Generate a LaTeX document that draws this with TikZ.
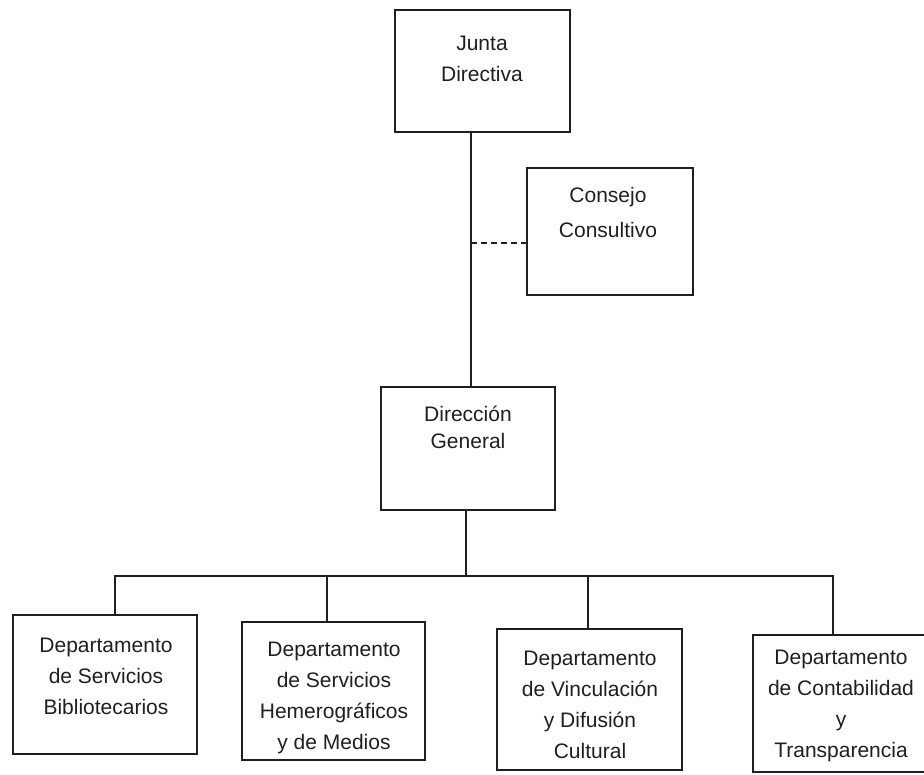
\documentclass[tikz,border=0pt]{standalone}
\usepackage{fontspec}
\setmainfont{Liberation Sans}
\definecolor{ink}{gray}{0.12}
\begin{document}
\begin{tikzpicture}[x=1pt,y=-1pt,
  box/.style={draw=ink,line width=1.4pt,inner sep=0pt},
  lbl/.style={text=ink,align=center,inner sep=0pt,font=\fontsize{21}{31}\selectfont},
  link/.style={draw=ink,line width=1.3pt}]
\useasboundingbox (0,0) rectangle (924,775);
% boxes
\node[box,minimum width=175pt,minimum height=122pt] (jd) at (482.5,71) {};
\node[box,minimum width=166pt,minimum height=127pt] (cc) at (610,231.5) {};
\node[box,minimum width=174pt,minimum height=123pt] (dg) at (468,448.5) {};
\node[box,minimum width=184pt,minimum height=139pt] (b1) at (105,684.5) {};
\node[box,minimum width=183pt,minimum height=138pt] (b2) at (333.5,691) {};
\node[box,minimum width=185pt,minimum height=141pt] (b3) at (589.5,699.5) {};
\node[box,minimum width=182pt,minimum height=137pt] (b4) at (844,703.5) {};
% texts
\node[lbl,font=\fontsize{21}{31}\selectfont] (jdt) at (482,59) {Junta\\Directiva};
\node[lbl,font=\fontsize{21}{35}\selectfont] (cct) at (608,212) {Consejo\\Consultivo};
\node[lbl,font=\fontsize{21}{27}\selectfont] (dgt) at (468,427) {Dirección\\General};
\node[lbl] (b1t) at (106,676) {Departamento\\de Servicios\\Bibliotecarios};
\node[lbl] (b2t) at (334,698) {Departamento\\de Servicios\\Hemerográficos\\y de Medios};
\node[lbl] (b3t) at (590,705) {Departamento\\de Vinculación\\y Difusión\\Cultural};
\node[lbl] (b4t) at (841,706) {Departamento\\de Contabilidad\\y\\Transparencia};
% connector coordinates
\coordinate (trunk) at (471,0);
\coordinate (dash) at (471,243);
\coordinate (busL) at (115,576);
\coordinate (busM) at (466,576);
\coordinate (bus2) at (327,576);
\coordinate (bus3) at (588,576);
\coordinate (busR) at (833,576);
% connectors
\draw[link] (jd.south -| trunk) -- (dg.north -| trunk);
\draw[link,dashed,dash pattern=on 6pt off 4pt] (dash) -- (cc.west |- dash);
\draw[link] (dg.south -| busM) -- (busM);
\draw[link] (b1.north -| busL) -- (busL) -- (busR) -- (b4.north -| busR);
\draw[link] (bus2) -- (b2.north -| bus2);
\draw[link] (bus3) -- (b3.north -| bus3);
\end{tikzpicture}
\end{document}
